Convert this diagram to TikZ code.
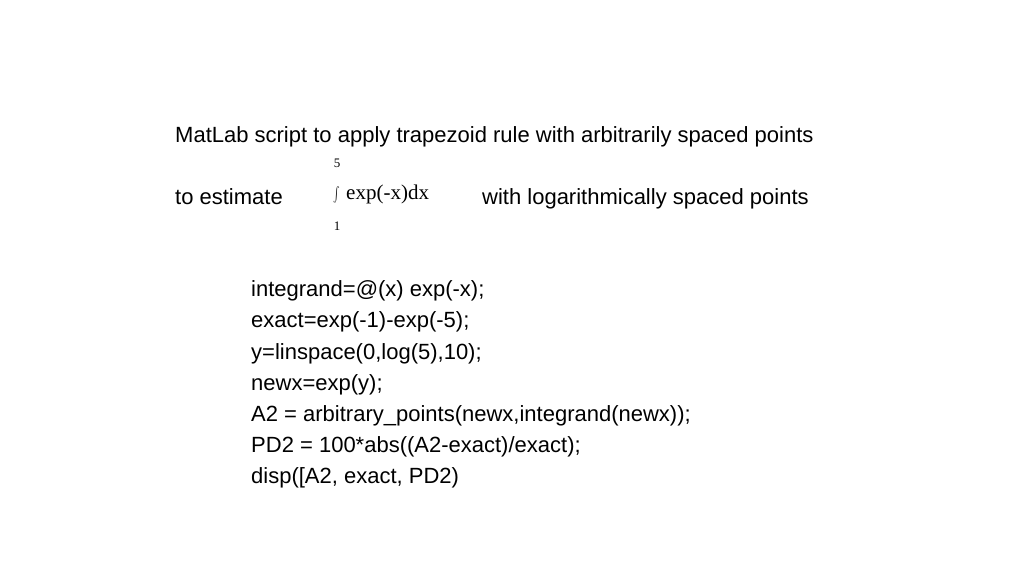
\documentclass[tikz,border=0pt]{standalone}
\usepackage{fontspec}
\setmainfont{Liberation Sans}
\newfontfamily\serif{Liberation Serif}
\begin{document}
\begin{tikzpicture}[x=1pt,y=1pt,txt/.style={anchor=base west,inner sep=0pt,font=\fontsize{22}{26}\selectfont}]
\useasboundingbox (0,0) rectangle (1024,576);
\node[txt] (t1) at (175,433) {MatLab script to apply trapezoid rule with arbitrarily spaced points};
\node[txt] (t2) at (175,371) {to estimate};
\node[inner sep=0pt] (int) at (337,381) {\fontsize{22}{26}\selectfont\scalebox{1}[1.5]{$\int$}};
\node[inner sep=0pt,font=\serif\fontsize{13}{15}\selectfont] (up) at (337,413) {5};
\node[inner sep=0pt,font=\serif\fontsize{13}{15}\selectfont] (lo) at (337,350) {1};
\node[anchor=base west,inner sep=0pt,font=\serif\fontsize{21}{25}\selectfont] (f) at (346,376) {exp(-x)dx};
\node[txt] (t3) at (482,371) {with logarithmically spaced points};
\foreach \i/\s in {0/{integrand=@(x) exp(-x);},1/{exact=exp(-1)-exp(-5);},2/{y=linspace(0,log(5),10);},3/{newx=exp(y);},4/{A2 = arbitrary\_points(newx,integrand(newx));},5/{PD2 = 100*abs((A2-exact)/exact);},6/{disp([A2, exact, PD2)}}
  \node[txt] (c\i) at (251,279-31*\i) {\s};
\end{tikzpicture}
\end{document}
